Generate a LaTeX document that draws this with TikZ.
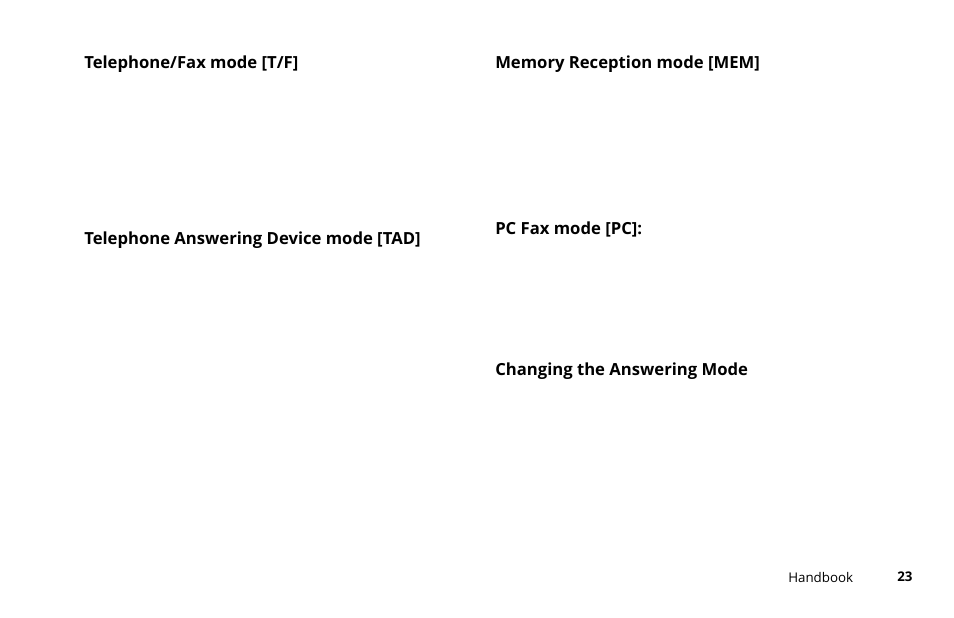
\documentclass[tikz,border=0pt]{standalone}
\usepackage{fontspec}
\setmainfont{Open Sans}
\tikzset{
  heading/.style={anchor=west, inner sep=0pt, font=\bfseries\fontsize{12.5}{14}\selectfont},
  footer/.style={anchor=west, inner sep=0pt, font=\fontsize{10}{12}\selectfont}
}
\begin{document}
\begin{tikzpicture}[x=0.75pt, y=-0.75pt]
  \useasboundingbox (0,0) rectangle (954,618);
  \node[heading] (tf) at (84,64) {Telephone/Fax mode [T/F]};
  \node[heading] (tad) at (84,240) {Telephone Answering Device mode [TAD]};
  \node[heading] (mem) at (495,64) {Memory Reception mode [MEM]};
  \node[heading] (pc) at (495,229) {PC Fax mode [PC]:};
  \node[heading] (chg) at (495,371) {Changing the Answering Mode};
  \node[footer] (hb) at (788,577) {Handbook};
  \node[footer, font=\bfseries\fontsize{10}{12}\selectfont] (pg) at (897,577) {23};
\end{tikzpicture}
\end{document}
